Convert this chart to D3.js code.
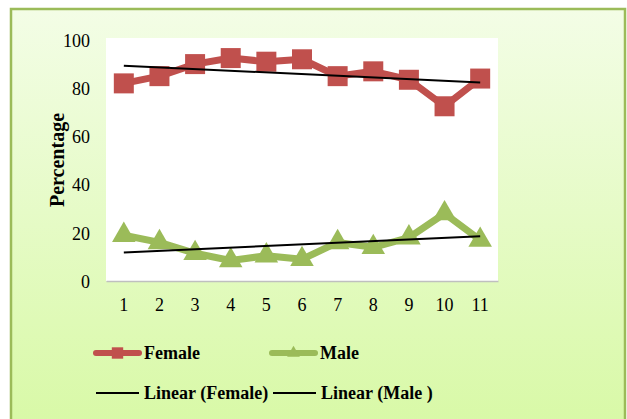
<!DOCTYPE html>
<html>
<head>
<meta charset="utf-8">
<script src="https://cdn.jsdelivr.net/npm/d3@7"></script>
<style>
  body { margin: 0; background: #fff; }
  text { font-family: "Liberation Serif", "Times New Roman", serif; }
</style>
</head>
<body>
<div id="chart"></div>
<script>
// data
const categories = [1, 2, 3, 4, 5, 6, 7, 8, 9, 10, 11];
const female = [82, 85, 90, 92.5, 91, 92, 85, 87, 83.5, 72.5, 84];
const male = [19, 16, 11.5, 8.5, 10.5, 9, 16, 14, 18, 28, 17];
const yTicks = [0, 20, 40, 60, 80, 100];

const W = 627, H = 419;
const plot = {left: 106, right: 498, top: 38, bottom: 281};

const svg = d3.select("#chart").append("svg")
    .attr("width", W)
    .attr("height", H);

// background gradient
const grad = svg.append("defs").append("linearGradient")
    .attr("id", "bg").attr("x1", 0).attr("y1", 0).attr("x2", 0).attr("y2", 1);
grad.append("stop").attr("offset", "0%").attr("stop-color", "#f3fde6");
grad.append("stop").attr("offset", "100%").attr("stop-color", "#d8f9a6");

svg.append("rect")
    .attr("x", 11).attr("y", 9)
    .attr("width", 614).attr("height", 420)
    .attr("fill", "url(#bg)")
    .attr("stroke", "#9bbb59")
    .attr("stroke-width", 2.5);

svg.append("rect")
    .attr("x", plot.left).attr("y", plot.top)
    .attr("width", plot.right - plot.left)
    .attr("height", plot.bottom - plot.top)
    .attr("fill", "#fff");

const x = d3.scaleBand()
    .domain(categories)
    .range([plot.left, plot.right]);

const y = d3.scaleLinear()
    .domain([0, 100])
    .range([plot.bottom, plot.bottom - 241]);

const cx = d => x(d) + x.bandwidth() / 2;

// x axis
const xAxis = svg.append("g")
    .attr("transform", `translate(0,${plot.bottom})`)
    .call(d3.axisBottom(x).tickSize(0).tickPadding(17))
    .attr("font-family", "Liberation Serif")
    .attr("font-size", 18);
xAxis.select(".domain").attr("stroke", "#bfbfbf").attr("stroke-width", 1.5);
xAxis.selectAll("text").attr("fill", "#000");

// y axis
const yAxis = svg.append("g")
    .attr("transform", `translate(${plot.left - 14},0)`)
    .call(d3.axisLeft(y).tickValues(yTicks).tickSize(0).tickPadding(2))
    .attr("font-family", "Liberation Serif")
    .attr("font-size", 18);
yAxis.select(".domain").remove();
yAxis.selectAll("text")
    .attr("dy", "0.35em")
    .attr("fill", "#000");

svg.append("text")
    .attr("transform", `translate(64,160) rotate(-90)`)
    .attr("text-anchor", "middle")
    .style("font-size", "20px")
    .style("font-weight", "bold")
    .text("Percentage");

// linear trend (least squares)
function trend(vals) {
    const xs = categories;
    const mx = d3.mean(xs), my = d3.mean(vals);
    const b = d3.sum(xs, (v, i) => (v - mx) * (vals[i] - my)) / d3.sum(xs, v => (v - mx) ** 2);
    const a = my - b * mx;
    return [xs[0], xs[xs.length - 1]].map(v => [v, a + b * v]);
}

const line = d3.line()
    .x(d => cx(d[0]))
    .y(d => y(d[1]));

const series = [
    {name: "Female", vals: female, color: "#c0504d", symbol: d3.symbolSquare, size: 400},
    {name: "Male", vals: male, color: "#9bbb59", symbol: d3.symbolTriangle, size: 240}
];

series.forEach(s => {
    const pts = categories.map((c, i) => [c, s.vals[i]]);
    svg.append("path")
        .datum(pts)
        .attr("d", line)
        .attr("fill", "none")
        .attr("stroke", s.color)
        .attr("stroke-width", 7)
        .attr("stroke-linejoin", "round");

    svg.selectAll(null)
        .data(pts)
        .enter()
        .append("path")
        .attr("d", d3.symbol().type(s.symbol).size(s.size))
        .attr("transform", d => `translate(${cx(d[0])},${y(d[1])})`)
        .attr("fill", s.color);
});

series.forEach(s => {
    svg.append("path")
        .datum(trend(s.vals))
        .attr("d", line)
        .attr("fill", "none")
        .attr("stroke", "#000")
        .attr("stroke-width", 2);
});

// legend
const legend = [
    {label: "Female", x: 96, y: 353, color: "#c0504d", symbol: d3.symbolSquare, size: 130, w: 6},
    {label: "Male", x: 272, y: 353, color: "#9bbb59", symbol: d3.symbolTriangle, size: 70, w: 6},
    {label: "Linear (Female)", x: 96, y: 393, color: "#000", w: 2},
    {label: "Linear (Male )", x: 273, y: 393, color: "#000", w: 2}
];

legend.forEach(l => {
    const g = svg.append("g").attr("transform", `translate(${l.x},${l.y})`);
    g.append("line")
        .attr("x1", 0).attr("x2", 43)
        .attr("stroke", l.color)
        .attr("stroke-width", l.w)
        .attr("stroke-linecap", l.symbol ? "round" : "butt");
    if (l.symbol) {
        g.append("path")
            .attr("d", d3.symbol().type(l.symbol).size(l.size))
            .attr("transform", "translate(21.5,0)")
            .attr("fill", l.color);
    }
    g.append("text")
        .attr("x", 48)
        .attr("dy", "0.35em")
        .style("font-size", "18px")
        .style("font-weight", "bold")
        .text(l.label);
});
</script>
</body>
</html>
